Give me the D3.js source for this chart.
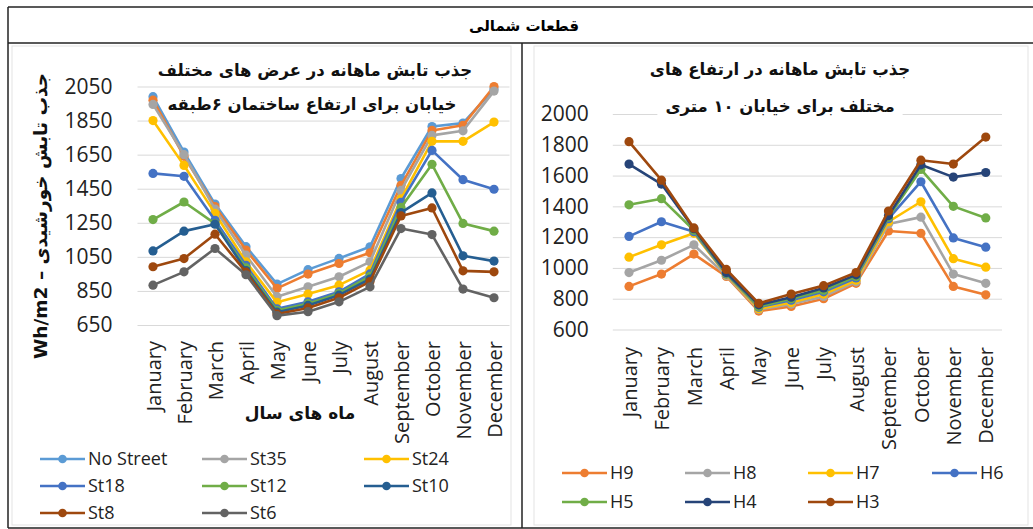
<!DOCTYPE html>
<html>
<head>
<meta charset="utf-8">
<script src="https://cdn.jsdelivr.net/npm/d3@7"></script>
<style>
  body { margin: 0; background: #fff; }
  svg { display: block; }
</style>
</head>
<body>
<script>
// ---------- DATA ----------
const months = ["January","February","March","April","May","June","July","August","September","October","November","December"];
const leftTicks = [650, 850, 1050, 1250, 1450, 1650, 1850, 2050];
const rightTicks = [600, 800, 1000, 1200, 1400, 1600, 1800, 2000];

// Left chart: street widths (6-storey buildings)
const noStreet = [1990, 1665, 1360, 1110, 890, 975, 1041, 1109, 1510, 1815, 1835, 2035];
const unlabelled = [1970, 1640, 1345, 1090, 865, 949, 1011, 1074, 1470, 1792, 1822, 2050];
const st35 = [1945, 1650, 1330, 1060, 816, 874, 933, 1021, 1440, 1763, 1790, 2023];
const st24 = [1850, 1587, 1305, 1020, 783, 832, 884, 972, 1390, 1728, 1728, 1841];
const st18 = [1540, 1523, 1265, 1000, 745, 786, 845, 950, 1370, 1675, 1503, 1447];
const st12 = [1269, 1372, 1245, 985, 735, 775, 835, 935, 1340, 1593, 1246, 1201];
const st10 = [1085, 1201, 1242, 970, 725, 765, 825, 920, 1310, 1425, 1056, 1025];
const st8 = [992, 1040, 1183, 960, 715, 750, 810, 905, 1290, 1337, 968, 962];
const st6 = [884, 962, 1099, 945, 705, 728, 786, 874, 1216, 1181, 861, 810];

// Right chart: building heights (10 m street)
const h9 = [880, 960, 1090, 945, 720, 750, 800, 900, 1240, 1225, 880, 825];
const h8 = [970, 1050, 1150, 950, 730, 765, 815, 910, 1285, 1330, 960, 900];
const h7 = [1070, 1150, 1225, 955, 735, 775, 830, 920, 1300, 1430, 1060, 1005];
const h6 = [1205, 1300, 1235, 960, 745, 790, 845, 935, 1320, 1560, 1195, 1135];
const h5 = [1410, 1450, 1245, 965, 750, 800, 855, 945, 1330, 1640, 1400, 1325];
const h4 = [1675, 1545, 1255, 970, 760, 810, 870, 955, 1340, 1670, 1590, 1620];
const h3 = [1820, 1570, 1260, 990, 770, 830, 885, 970, 1370, 1700, 1675, 1850];

const leftNames = ["No Street", "", "St35", "St24", "St18", "St12", "St10", "St8", "St6"];
const leftValues = [noStreet, unlabelled, st35, st24, st18, st12, st10, st8, st6];
const leftColors = ["#5B9BD5", "#ED7D31", "#A5A5A5", "#FFC000", "#4472C4", "#70AD47", "#255E91", "#9E480E", "#636363"];

const rightNames = ["H9", "H8", "H7", "H6", "H5", "H4", "H3"];
const rightValues = [h9, h8, h7, h6, h5, h4, h3];
const rightColors = ["#ED7D31", "#A5A5A5", "#FFC000", "#4472C4", "#70AD47", "#264478", "#9E480E"];

// ---------- DRAW ----------
const W = 1033, H = 529;
const svg = d3.select("body").append("svg").attr("width", W).attr("height", H);
svg.append("rect").attr("width", W).attr("height", H).attr("fill", "#fff");

const AR = "'DejaVu Sans', sans-serif";
const LAT = "'Open Sans', sans-serif";

// chart area faint borders
svg.append("rect").attr("x", 12).attr("y", 46).attr("width", 499).attr("height", 479)
  .attr("fill", "none").attr("stroke", "#e3e3e3");
svg.append("rect").attr("x", 534).attr("y", 46).attr("width", 494).attr("height", 479)
  .attr("fill", "none").attr("stroke", "#e3e3e3");

// table frame
const frame = svg.append("g").attr("stroke", "#222").attr("stroke-width", 1.5);
frame.append("line").attr("x1", 8).attr("x2", W).attr("y1", 7).attr("y2", 7);
frame.append("line").attr("x1", 8).attr("x2", W).attr("y1", 43).attr("y2", 43);
frame.append("line").attr("x1", 8).attr("x2", W).attr("y1", 528).attr("y2", 528);
frame.append("line").attr("x1", 8).attr("x2", 8).attr("y1", 7).attr("y2", 528);
frame.append("line").attr("x1", 522).attr("x2", 522).attr("y1", 43).attr("y2", 528);

svg.append("text").attr("x", 524).attr("y", 31).attr("text-anchor", "middle")
  .attr("direction", "rtl").attr("font-family", AR).attr("font-weight", "bold")
  .attr("font-size", 15).text("قطعات شمالی");

function drawChart(cfg) {
  const x = d3.scalePoint().domain(months).range(cfg.xRange).padding(0.5);
  const y = d3.scaleLinear().domain(cfg.yDomain).range(cfg.yRange);
  const g = svg.append("g");
  const plotW = cfg.xRange[1] - cfg.xRange[0];

  // gridlines
  const grid = g.append("g").attr("transform", `translate(${cfg.xRange[0]},0)`)
    .call(d3.axisLeft(y).tickValues(cfg.ticks).tickSize(-plotW).tickFormat(""));
  grid.select(".domain").remove();
  grid.selectAll("line").attr("stroke", "#d9d9d9").attr("stroke-width", 1);

  // y labels
  const ya = g.append("g").attr("transform", `translate(${cfg.xRange[0]},0)`)
    .call(d3.axisLeft(y).tickValues(cfg.ticks).tickSize(0).tickPadding(cfg.yPad).tickFormat(d3.format("d")));
  ya.select(".domain").remove();
  ya.selectAll("text").attr("font-family", LAT).attr("font-size", 21).attr("fill", "#222");

  // titles with white backing
  cfg.titles.forEach(t => {
    const tg = g.append("g");
    const tx = tg.append("text").attr("x", t.x).attr("y", t.y).attr("text-anchor", "middle")
      .attr("direction", "rtl").attr("font-family", AR).attr("font-weight", "bold")
      .attr("font-size", t.size).attr("fill", "#111").text(t.text);
    const bb = tx.node().getBBox();
    tg.insert("rect", "text").attr("x", bb.x - 8).attr("y", bb.y - 3).attr("width", bb.width + 16)
      .attr("height", bb.height + 6).attr("fill", "#fff");
  });

  // x labels
  const xa = g.append("g").attr("transform", `translate(0,${cfg.yRange[0]})`)
    .call(d3.axisBottom(x).tickSize(0));
  xa.select(".domain").remove();
  xa.selectAll("text").attr("transform", "rotate(-90)").attr("text-anchor", "end")
    .attr("x", -cfg.xLabOff).attr("y", 0).attr("dy", "0.36em")
    .attr("font-family", LAT).attr("font-size", 20).attr("fill", "#222");

  // series
  const line = d3.line().x((d, i) => x(months[i])).y(d => y(d));
  cfg.values.forEach((vals, si) => {
    const sg = g.append("g");
    sg.append("path").datum(vals).attr("d", line).attr("fill", "none")
      .attr("stroke", cfg.colors[si]).attr("stroke-width", 2.6).attr("stroke-linejoin", "round");
    sg.selectAll("circle").data(vals).join("circle")
      .attr("cx", (d, i) => x(months[i])).attr("cy", d => y(d)).attr("r", 4.6)
      .attr("fill", cfg.colors[si]);
  });

  // legend
  const entries = cfg.names.map((n, i) => ({ n, c: cfg.colors[i] })).filter(e => e.n !== "");
  entries.forEach((e, k) => {
    const col = k % cfg.legCols.length, row = Math.floor(k / cfg.legCols.length);
    const lx = cfg.legCols[col], ly = cfg.legRows[row];
    const lg = g.append("g");
    lg.append("line").attr("x1", lx).attr("x2", lx + 45).attr("y1", ly).attr("y2", ly)
      .attr("stroke", e.c).attr("stroke-width", 2.6);
    lg.append("circle").attr("cx", lx + 22.5).attr("cy", ly).attr("r", 4.3).attr("fill", e.c);
    lg.append("text").attr("x", lx + 48).attr("y", ly).attr("dy", "0.35em")
      .attr("font-family", LAT).attr("font-size", 18).attr("fill", "#222").text(e.n);
  });
  return { x, y };
}

drawChart({
  xRange: [137.5, 509.5], yDomain: [650, 2050], yRange: [325, 86.5], ticks: leftTicks,
  yPad: 25, xLabOff: 16,
  values: leftValues, colors: leftColors, names: leftNames,
  legCols: [40, 202, 364], legRows: [459, 486, 513],
  titles: [
    { text: "جذب تابش ماهانه در عرض های  مختلف", x: 315, y: 76, size: 16.5 },
    { text: "خیابان برای ارتفاع ساختمان ۶طبقه", x: 312, y: 110, size: 16.5 }
  ]
});

drawChart({
  xRange: [612.8, 1002], yDomain: [600, 2000], yRange: [329.5, 114], ticks: rightTicks,
  yPad: 24, xLabOff: 17.5,
  values: rightValues, colors: rightColors, names: rightNames,
  legCols: [562, 685, 808, 932], legRows: [473, 502],
  titles: [
    { text: "جذب تابش ماهانه در ارتفاع های", x: 780, y: 75, size: 16.5 },
    { text: "مختلف برای خیابان ۱۰ متری", x: 780, y: 112, size: 16.5 }
  ]
});

// left y-axis title (rotated)
svg.append("text").attr("transform", "translate(47,216) rotate(-90)")
  .attr("text-anchor", "middle").attr("font-family", AR).attr("font-weight", "bold")
  .attr("font-size", 18.5).attr("fill", "#111")
  .text("Wh/m2 – جذب تابش خورشیدی");

// left x-axis title
svg.append("text").attr("x", 300).attr("y", 419).attr("text-anchor", "middle")
  .attr("direction", "rtl").attr("font-family", AR).attr("font-weight", "bold")
  .attr("font-size", 17).attr("fill", "#111").text("ماه های سال");
</script>
</body>
</html>
